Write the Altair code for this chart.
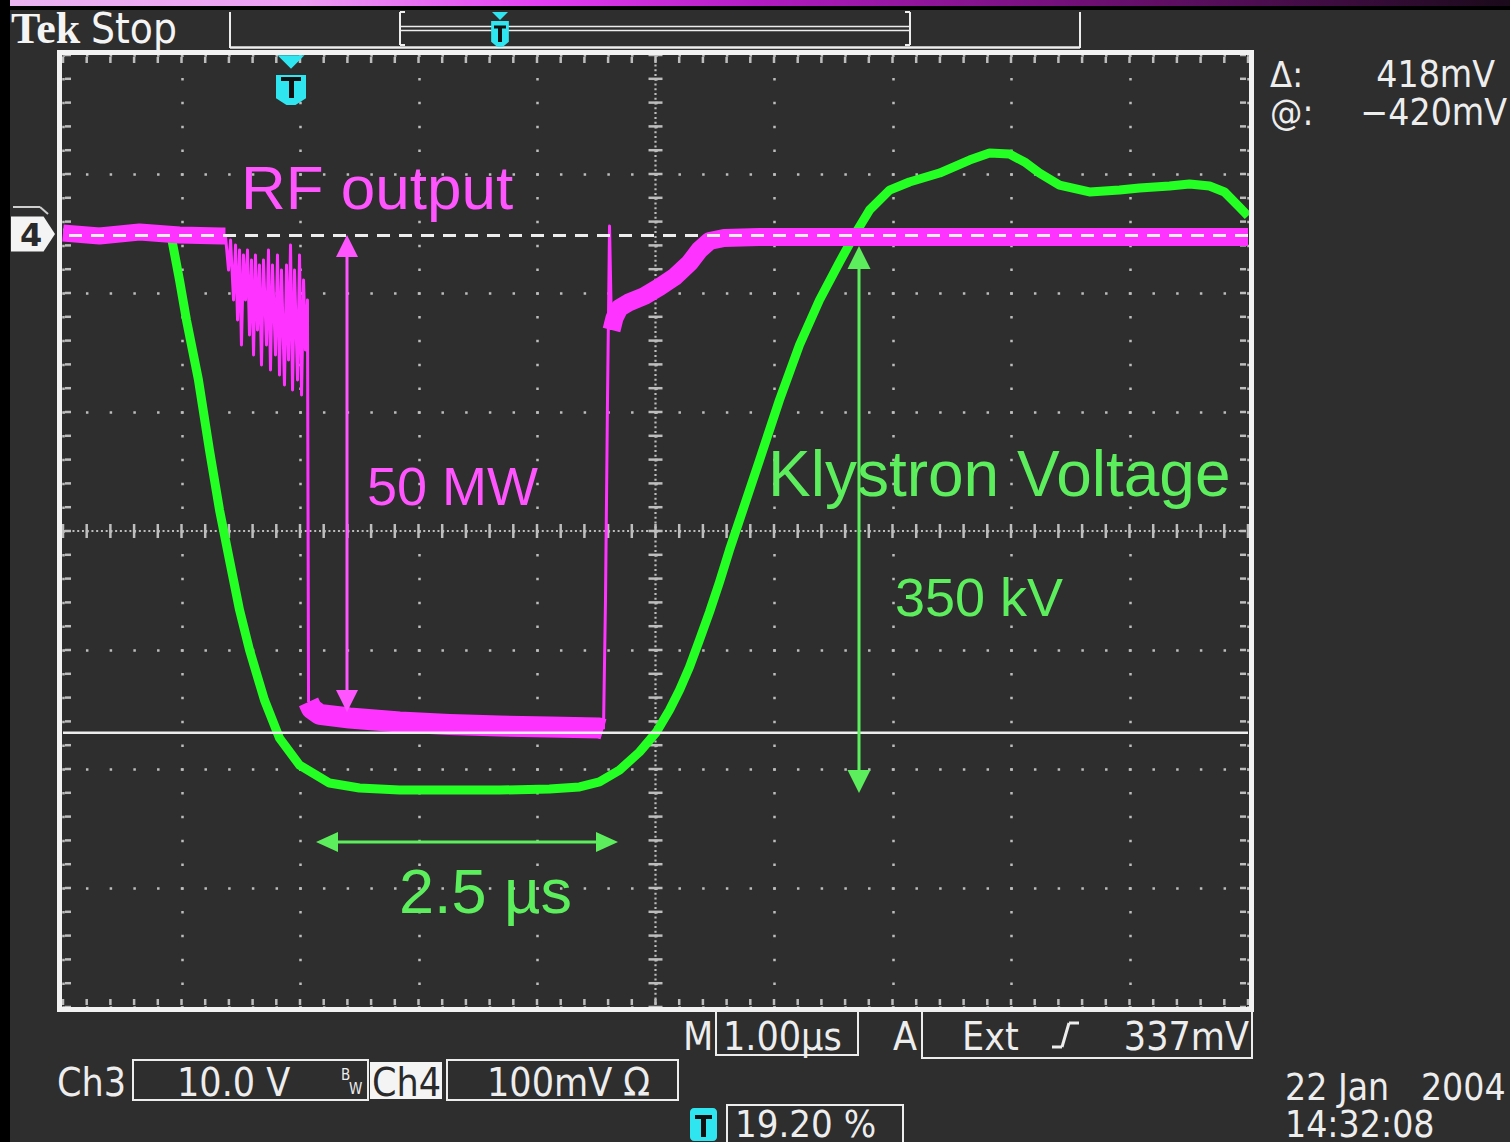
import altair as alt
import numpy as np
import pandas as pd

# ---------------- values read from the screen ----------------
# time: microseconds from the left edge of the graticule (M 1.00 µs/div)
# Ch3 - klystron voltage monitor, 10.0 V/div
ch3_t = [0.0, 0.477, 0.857, 0.916, 0.983, 1.042, 1.143, 1.236, 1.321, 1.405, 1.490, 1.574,
         1.700, 1.827, 1.996, 2.249, 2.502, 2.840, 3.262, 3.684, 4.105, 4.359, 4.527, 4.696,
         4.865, 5.008, 5.118, 5.203, 5.287, 5.371, 5.456, 5.540, 5.624, 5.709, 5.878, 6.046,
         6.215, 6.384, 6.553, 6.679, 6.806, 6.975, 7.143, 7.397, 7.650, 7.819, 7.987, 8.114,
         8.241, 8.409, 8.662, 8.916, 9.084, 9.338, 9.506, 9.675, 9.802, 9.928, 10.0]
ch3_v = [0.0, 0.08, -0.08, -0.42, -3.95, -7.31, -12.35, -18.24, -23.28, -27.48, -31.68, -35.04,
         -39.24, -42.44, -44.71, -46.22, -46.64, -46.81, -46.81, -46.81, -46.72, -46.55, -46.13, -45.13,
         -43.61, -41.93, -40.08, -38.40, -36.47, -34.20, -31.85, -29.33, -26.64, -24.12, -19.08, -14.03,
         -9.41, -5.63, -2.44, -0.17, 1.93, 3.61, 4.29, 5.04, 6.13, 6.72, 6.64, 5.97,
         5.04, 4.03, 3.45, 3.61, 3.78, 3.95, 4.12, 3.95, 3.45, 2.18, 1.43]
# Ch4 - RF output detector, 100 mV/div
ch4_t = [0.0, 0.308, 0.646, 0.983, 1.338, 1.371, 1.397, 1.414, 1.439, 1.456, 1.473, 1.490,
         1.506, 1.523, 1.540, 1.557, 1.574, 1.591, 1.608, 1.624, 1.641, 1.658, 1.675, 1.692,
         1.717, 1.734, 1.751, 1.768, 1.793, 1.810, 1.827, 1.844, 1.869, 1.886, 1.903, 1.920,
         1.937, 1.954, 1.979, 1.996, 2.013, 2.030, 2.046, 2.063, 2.072, 2.097, 2.165, 2.418,
         2.840, 3.262, 3.684, 4.105, 4.527, 4.561, 4.578, 4.595, 4.612, 4.629, 4.654, 4.696,
         4.781, 4.907, 5.034, 5.160, 5.287, 5.371, 5.456, 5.578, 5.873, 6.624, 7.468, 8.312,
         9.156, 10.0]
ch4_mv = [0.0, -2.5, 0.8, -1.7, -2.5, -2.5, -31.1, -5.9, -56.3, -10.1, -73.1, -14.3,
          -94.1, -18.5, -56.3, -14.3, -85.7, -22.7, -102.5, -18.5, -81.5, -26.9, -110.9, -22.7,
          -94.1, -14.3, -115.1, -26.9, -102.5, -18.5, -119.3, -31.1, -127.7, -26.9, -106.7, -10.1,
          -131.9, -31.1, -123.5, -18.5, -136.1, -39.5, -98.3, -56.3, -394.0, -399.5, -404.5, -407.5,
          -410.9, -413.0, -414.3, -415.1, -416.0, -417.0, -308.4, -140.3, 5.9, -81.5, -71.4, -63.0,
          -58.0, -52.9, -45.4, -37.0, -25.2, -14.3, -6.7, -4.2, -3.4, -3.4, -3.4, -3.4,
          -3.4, -3.4]
# times (µs) where the Ch4 trace changes from a noisy band to a thin edge
ch4_breaks = [1.371, 2.072, 4.561, 4.629]
# cursor positions on Ch4 (mV): inactive (dashed) and active (solid)
cursor_mv = [-2, -420]

# ---------------- styling ----------------
OX, OY = 63, 55            # graticule origin on the page
W, H = 1185, 952           # 10 x 8 divisions
OFF = 2.504                # channel ground marker, divisions above centre
BG = "#2e2e2e"
WHITE = "#ededed"
GRID = "#bdbdbd"
MAGT = "#ff33ff"
GRNT = "#24ff24"
MAGA = "#ff55ff"
GRNA = "#5cee5c"
CYAN = "#2fe6f0"
TEKF = "DejaVu Sans Condensed, Liberation Sans Narrow, DejaVu Sans, sans-serif"
HELV = "Liberation Sans, Arial, Helvetica, sans-serif"
ch4_widths = [17, 3, 21, 3, 18]
NB = "\u00a0"

XS = alt.Scale(domain=[0, 10], nice=False, zero=False)
YS = alt.Scale(domain=[-4, 4], nice=False, zero=False)
XAX = alt.Axis(values=list(range(11)), grid=True, gridColor=GRID, gridWidth=2.5,
               gridDash=[2.5, 21.3], gridDashOffset=1.25, labels=False, ticks=False,
               domain=False, title="")
YAX = alt.Axis(values=list(range(-4, 5)), grid=True, gridColor=GRID, gridWidth=2.5,
               gridDash=[2.5, 21.2], gridDashOffset=1.25, labels=False, ticks=False,
               domain=False, title="")

ONE = pd.DataFrame({"k": [0]})


def px(X):
    return X - OX


def py(Y):
    return Y - OY


def text(s, X, Y, size, color=WHITE, font=TEKF, align="left", weight="normal"):
    return alt.Chart(ONE).mark_text(text=s, align=align, baseline="alphabetic", fontSize=size,
                                    font=font, color=color, fontWeight=weight).encode(
        x=alt.value(px(X)), y=alt.value(py(Y)))


def seg(X1, Y1, X2, Y2, color=WHITE, w=2, dash=None):
    kw = dict(color=color, strokeWidth=w)
    if dash is not None:
        kw["strokeDash"] = dash
    return alt.Chart(ONE).mark_rule(**kw).encode(
        x=alt.value(px(X1)), x2=alt.value(px(X2)), y=alt.value(py(Y1)), y2=alt.value(py(Y2)))


def box(X1, Y1, X2, Y2, stroke=WHITE, w=2, fill=None, radius=0):
    if fill is None:
        m = alt.Chart(ONE).mark_rect(stroke=stroke, strokeWidth=w, fillOpacity=0)
    else:
        m = alt.Chart(ONE).mark_rect(fill=fill, strokeWidth=0, cornerRadius=radius)
    return m.encode(x=alt.value(px(X1)), x2=alt.value(px(X2)), y=alt.value(py(Y1)), y2=alt.value(py(Y2)))


def sym(path, X, Y, side, color):
    return alt.Chart(ONE).mark_point(shape=path, size=side * side, filled=True, color=color,
                                     opacity=1, strokeWidth=0).encode(
        x=alt.value(px(X)), y=alt.value(py(Y)))


UP = "M0,-1L1,1L-1,1Z"
DOWN = "M0,1L1,-1L-1,-1Z"
LEFT = "M-1,0L1,-0.9L1,0.9Z"
RIGHT = "M1,0L-1,-0.9L-1,0.9Z"
FLATDOWN = "M-1,-0.5L1,-0.5L0,0.5Z"
SHIELD = "M-1,-1L1,-1L1,0.55L0.3,1L-0.3,1L-1,0.55Z"
NARROWSHIELD = "M-0.68,-1L0.68,-1L0.68,0.6L0.2,1L-0.2,1L-0.68,0.6Z"
PENT = "M-1,-0.8L0.48,-0.8L1,0L0.48,0.8L-1,0.8Z"


def varrow(X, Yt, Yb, color, head=22, w=3):
    return [seg(X, Yt + head - 3, X, Yb - head + 3, color, w),
            sym(UP, X, Yt + head / 2, head, color),
            sym(DOWN, X, Yb - head / 2, head, color)]


def harrow(Y, Xl, Xr, color, head=22, w=3):
    return [seg(Xl + head - 3, Y, Xr - head + 3, Y, color, w),
            sym(LEFT, Xl + head / 2, Y, head, color),
            sym(RIGHT, Xr - head / 2, Y, head, color)]


# ---------------- tables ----------------
ch3_df = pd.DataFrame({"t": ch3_t, "v": ch3_v})

rows = []
bounds = [ch4_t[0]] + ch4_breaks + [ch4_t[-1]]
for s in range(len(bounds) - 1):
    lo, hi = bounds[s], bounds[s + 1]
    for t, mv in zip(ch4_t, ch4_mv):
        if lo - 1e-9 <= t <= hi + 1e-9:
            rows.append({"t": t, "mv": mv, "seg": s, "w": ch4_widths[s]})
ch4_df = pd.DataFrame(rows)

cur_df = pd.DataFrame({"mv": cursor_mv, "state": ["inactive", "active"]})
minor_t = pd.DataFrame({"t": np.round(np.arange(0, 10.0001, 0.2), 3)})
minor_d = pd.DataFrame({"d": np.round(np.arange(-4, 4.0001, 0.2), 3)})

layers = []

# page furniture
grad = alt.Gradient(gradient="linear", x1=0, x2=1, y1=0, y2=0, stops=[
    alt.GradientStop(color="#e9b4ef", offset=0),
    alt.GradientStop(color="#ec9df2", offset=0.2),
    alt.GradientStop(color="#e23cf2", offset=0.36),
    alt.GradientStop(color="#b21bc2", offset=0.5),
    alt.GradientStop(color="#6e0f74", offset=0.72),
    alt.GradientStop(color="#1a0a1a", offset=1)])
layers.append(box(0, 6, 1510, 10, fill="#000000"))
layers.append(alt.Chart(ONE).mark_rect(color=grad).encode(
    x=alt.value(px(0)), x2=alt.value(px(1510)), y=alt.value(py(0)), y2=alt.value(py(6))))
layers.append(box(0, 0, 10, 1142, fill="#000000"))

# graticule: grid from the axes, centre lines and ticks
grid_base = alt.Chart(ONE).mark_point(opacity=0).encode(
    x=alt.X("k:Q", scale=XS, axis=XAX), y=alt.Y("k:Q", scale=YS, axis=YAX))
layers.append(grid_base)
layers.append(seg(OX + W / 2, OY, OX + W / 2, OY + H, GRID, 2.2, [2, 2.76]))
layers.append(seg(OX, OY + H / 2, OX + W, OY + H / 2, GRID, 2.2, [2, 2.74]))
tick_kw = dict(color=GRID, strokeWidth=2.5)
layers.append(alt.Chart(minor_t).mark_rule(**tick_kw).encode(
    x=alt.X("t:Q", scale=XS, axis=XAX), y=alt.value(H / 2 - 7), y2=alt.value(H / 2 + 7)))
layers.append(alt.Chart(minor_d).mark_rule(**tick_kw).encode(
    y=alt.Y("d:Q", scale=YS, axis=YAX), x=alt.value(W / 2 - 7), x2=alt.value(W / 2 + 7)))
layers.append(alt.Chart(minor_t).mark_rule(**tick_kw).encode(
    x=alt.X("t:Q", scale=XS, axis=XAX), y=alt.value(2), y2=alt.value(8)))
layers.append(alt.Chart(minor_t).mark_rule(**tick_kw).encode(
    x=alt.X("t:Q", scale=XS, axis=XAX), y=alt.value(H - 8), y2=alt.value(H - 2)))
layers.append(alt.Chart(minor_d).mark_rule(**tick_kw).encode(
    y=alt.Y("d:Q", scale=YS, axis=YAX), x=alt.value(2), x2=alt.value(8)))
layers.append(alt.Chart(minor_d).mark_rule(**tick_kw).encode(
    y=alt.Y("d:Q", scale=YS, axis=YAX), x=alt.value(W - 8), x2=alt.value(W - 2)))

# traces
layers.append(alt.Chart(ch3_df).transform_calculate(div=f"datum.v / 10 + {OFF}").mark_line(
    color=GRNT, strokeWidth=9, strokeJoin="round").encode(
    x=alt.X("t:Q", scale=XS, axis=XAX), y=alt.Y("div:Q", scale=YS, axis=YAX), order="t:Q"))
layers.append(alt.Chart(ch4_df).transform_calculate(div=f"datum.mv / 100 + {OFF}").mark_line(
    color=MAGT, strokeJoin="round").encode(
    x=alt.X("t:Q", scale=XS, axis=XAX), y=alt.Y("div:Q", scale=YS, axis=YAX),
    detail="seg:N", strokeWidth=alt.StrokeWidth("w:Q", scale=None), order="t:Q"))

# cursors
layers.append(alt.Chart(cur_df).transform_filter("datum.state == 'inactive'").transform_calculate(
    div=f"datum.mv / 100 + {OFF}").mark_rule(color=WHITE, strokeWidth=3, strokeDash=[13, 9]).encode(
    y=alt.Y("div:Q", scale=YS, axis=YAX)))
layers.append(alt.Chart(cur_df).transform_filter("datum.state == 'active'").transform_calculate(
    div=f"datum.mv / 100 + {OFF}").mark_rule(color=WHITE, strokeWidth=2.5).encode(
    y=alt.Y("div:Q", scale=YS, axis=YAX)))

# frame
layers.append(box(59.5, 52.5, 1251.5, 1009.5, stroke="#f2f2f2", w=5))

# header
layers.append(text("Tek", 11, 43, 44, color="#f4f4f4", font="Liberation Serif, DejaVu Serif, serif", weight="bold"))
layers.append(text("Stop", 91, 43, 42, color="#f4f4f4"))
layers += [seg(230, 12, 230, 48), seg(1080, 12, 1080, 48), seg(230, 47.5, 1080, 47.5, w=2.5),
           seg(400, 12, 400, 45), seg(400, 12, 405, 12), seg(400, 45, 405, 45),
           seg(910, 12, 910, 45), seg(905, 12, 910, 12), seg(905, 45, 910, 45),
           seg(400, 26.5, 910, 26.5, w=1.5), seg(400, 30.5, 910, 30.5, w=1.5)]
layers.append(sym(FLATDOWN, 500, 16, 16, CYAN))
layers.append(sym(NARROWSHIELD, 500, 34, 26, CYAN))
layers += [seg(494, 27, 506, 27, "#111111", 3), seg(500, 27, 500, 42, "#111111", 4)]

# trigger position marker on graticule
layers.append(sym(FLATDOWN, 291, 62, 27, CYAN))
layers.append(sym(SHIELD, 291, 90, 30, CYAN))
layers += [seg(281, 79, 301, 79, "#111111", 4), seg(291.5, 79, 291.5, 98, "#111111", 5)]

# channel 4 ground marker
layers += [seg(13, 207, 40, 207, "#cfcfcf", 2), seg(40, 207, 48, 214, "#cfcfcf", 2)]
layers.append(sym(PENT, 33, 234, 44, "#f4f4f4"))
layers.append(text("4", 31, 246, 32, color="#2a2a2a", font="DejaVu Sans, sans-serif",
                   align="center", weight="bold"))

# cursor readout
layers += [text("Δ:", 1270, 87, 36), text("418mV", 1495, 87, 37, align="right"),
           text("@:", 1270, 125, 36), text("−420mV", 1507, 125, 37, align="right")]

# annotations
layers.append(text("RF output", 241, 209, 62, color=MAGA, font=HELV))
layers += varrow(347, 235, 712, MAGA, head=22)
layers.append(text("50 MW", 367, 505, 54, color=MAGA, font=HELV))
layers += varrow(859, 246, 793, GRNA, head=23)
layers.append(text("Klystron Voltage", 768, 496, 64, color=GRNA, font=HELV))
layers.append(text("350 kV", 895, 616, 54, color=GRNA, font=HELV))
layers += harrow(842, 316, 618, GRNA, head=22)
layers.append(text("2.5 µs", 399, 913, 63, color=GRNA, font=HELV))

# bottom readouts
layers += [text("M", 683, 1050, 39), box(716, 1011, 858, 1055), text("1.00µs", 723, 1050, 39),
           text("A", 893, 1050, 39), box(922, 1011, 1252, 1058), text("Ext", 962, 1050, 39),
           seg(1052, 1047, 1062, 1047, w=3), seg(1062, 1047, 1069, 1023, w=3),
           seg(1069, 1023, 1079, 1023, w=3), text("337mV", 1249, 1050, 39, align="right")]
layers += [text("Ch3", 57, 1096, 39), box(133, 1060, 368, 1100), text("10.0 V", 177, 1096, 39),
           text("B", 341, 1080, 15), text("W", 349, 1094, 15),
           box(370, 1062, 442, 1099, fill="#f4f4f4"), text("Ch4", 372, 1096, 39, color="#2a2a2a"),
           box(447, 1060, 678, 1100), text("100mV" + NB + "Ω", 487, 1096, 39)]
layers += [box(690, 1108, 717, 1141, fill=CYAN, radius=4),
           seg(695, 1117, 712, 1117, "#111111", 4), seg(703.5, 1117, 703.5, 1137, "#111111", 5),
           box(727, 1105, 903, 1150), text("19.20" + NB + "%", 735, 1137, 38)]
layers += [text("22" + NB + "Jan" + NB + NB + NB + "2004", 1285, 1100, 37),
           text("14:32:08", 1285, 1137, 37)]

chart = alt.layer(*layers).properties(
    width=W, height=H, background=BG,
    padding={"left": OX, "top": OY, "right": 1510 - OX - W, "bottom": 1142 - OY - H},
    autosize=alt.AutoSizeParams(type="none"),
).configure_view(strokeWidth=0)

chart.save("out.html", embed_options={"renderer": "svg", "actions": False})
